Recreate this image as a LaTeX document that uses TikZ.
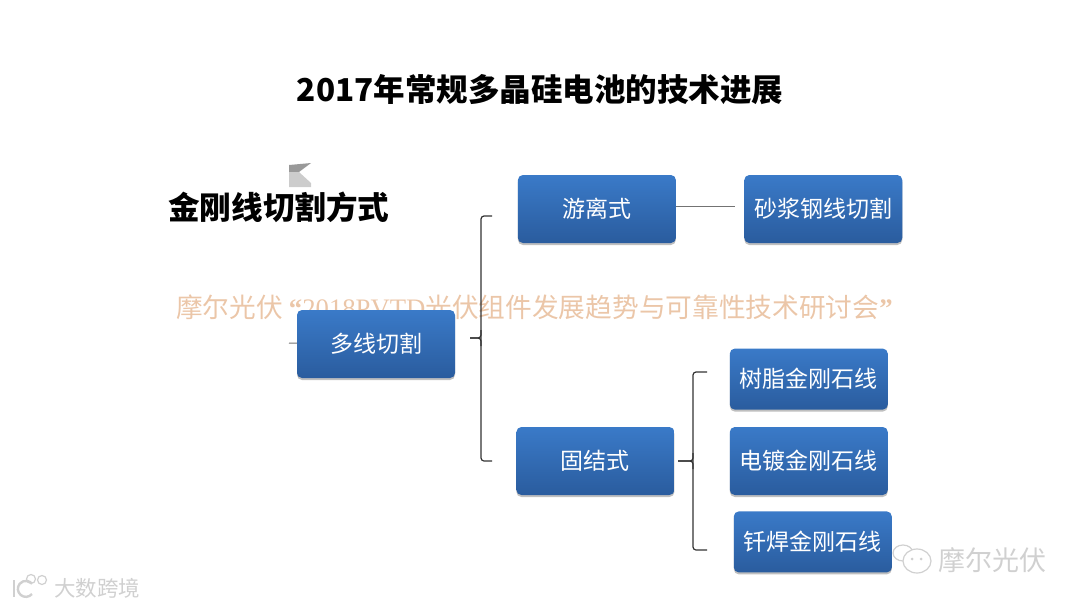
\documentclass[tikz,border=0pt]{standalone}
\usepackage{fontspec}
\setmainfont{Noto Sans CJK SC}
\newfontfamily\latinserif{Liberation Serif}
\usetikzlibrary{
    positioning,
    shadows
}
\definecolor{boxtop}{HTML}{3A7AC8}
\definecolor{boxbottom}{HTML}{2A5C9E}
\definecolor{markorange}{HTML}{EBC6A8}
\definecolor{markgray}{HTML}{D0D0D0}
\newcommand{\fsize}[1]{\fontsize{#1}{#1}\selectfont}

\begin{document}
\begin{tikzpicture}[
    x=1pt, y=-1pt,
    blockbox/.style={rectangle, rounded corners=5pt, minimum height=68pt, minimum width=158pt, inner sep=0pt,
        top color=boxtop, bottom color=boxbottom, text=white, font=\fsize{23},
        drop shadow={shadow xshift=0pt, shadow yshift=-2pt, opacity=.25, fill=black}},
    thinbox/.style={blockbox, minimum height=61pt},
    bracket/.style={draw=black!80, line width=1.2pt, rounded corners=3pt},
    link/.style={draw=black!55, line width=1pt},
    plain/.style={inner sep=0pt, anchor=west},
    logoline/.style={draw=markgray, line width=1.2pt},
]
\useasboundingbox (0,0) rectangle (1080,608);
\node[inner sep=0pt, font=\fsize{31.5}\bfseries] (title) at (540,90) {2017年常规多晶硅电池的技术进展};
\node[plain, font=\fsize{31.6}\bfseries] (heading) at (168,207) {金刚线切割方式};

% Watermark behind the boxes
\node[plain, text=markorange, font=\fsize{26.7}] (mark) at (176,307)
    {摩尔光伏 {\latinserif\bfseries “}{\latinserif 2018PVTD}光伏组件发展趋势与可靠性技术研讨会{\latinserif\bfseries ”}};

% Picture scrap above the heading
\fill[black!40] (289,165) -- (311,163) -- (299,172) -- (289,172) -- cycle;
\fill[black!20] (289,172) -- (299,172) -- (311,183) -- (311,187) -- (289,187) -- cycle;

\node[blockbox] (duoxian) at (376,344) {多线切割};
\node[blockbox, right=62.5pt of duoxian, yshift=135pt] (liyou) {游离式};
\node[blockbox, right=61pt of duoxian, yshift=-117pt] (gujie) {固结式};
\node[blockbox, right=68pt of liyou] (shajiang) {砂浆钢线切割};
\node[blockbox, right=55pt of gujie] (diandu) {电镀金刚石线};
\node[thinbox, above=17pt of diandu] (shuzhi) {树脂金刚石线};
\node[thinbox, below=16pt of diandu, xshift=4pt] (qianhan) {钎焊金刚石线};

\coordinate (leftstub) at (289,343);
\coordinate (liyouend) at (735,206);
\coordinate (bigtop) at (492,216);
\coordinate (bigbot) at (492,461);
\coordinate (bigtip) at (470,338);
\coordinate (smalltop) at (707,372);
\coordinate (smallbot) at (707,550);
\coordinate (smalltip) at (678,461);

\draw[link] (leftstub) -- (duoxian);
\draw[link] (liyou.east|-liyouend) -- (liyouend);

\draw[bracket] (bigtop) -- ++(-11,0) -- ++(0,245) -- (bigbot);
\draw[bracket] (bigtip) -- ++(11,0) -- ++(0,-8);
\draw[bracket] (bigtip) -- ++(11,0) -- ++(0,8);
\draw[bracket] (smalltop) -- ++(-14,0) -- ++(0,178) -- (smallbot);
\draw[bracket] (smalltip) -- ++(15,0) -- ++(0,-8);
\draw[bracket] (smalltip) -- ++(15,0) -- ++(0,8);

% Corner logos
\node[plain, text=markgray, font=\fsize{21.5}] (bigdata) at (54,588) {大数跨境};
\draw[logoline, line width=2.4pt] (14,580) -- (14,597);
\draw[logoline, line width=2.4pt] (32,594) arc (40:320:8);
\draw[logoline] (31,579) circle (4.5);
\draw[logoline] (42,580) circle (4.5);

\node[plain, text=markgray, font=\fsize{27}] (morphoto) at (938,560) {摩尔光伏};
\draw[logoline] (903,553) ellipse (10 and 8);
\draw[logoline, fill=white] (917,561) ellipse (14 and 12);
\fill[markgray] (912,559) circle (1.5);
\fill[markgray] (921,559) circle (1.5);
\end{tikzpicture}
\end{document}
